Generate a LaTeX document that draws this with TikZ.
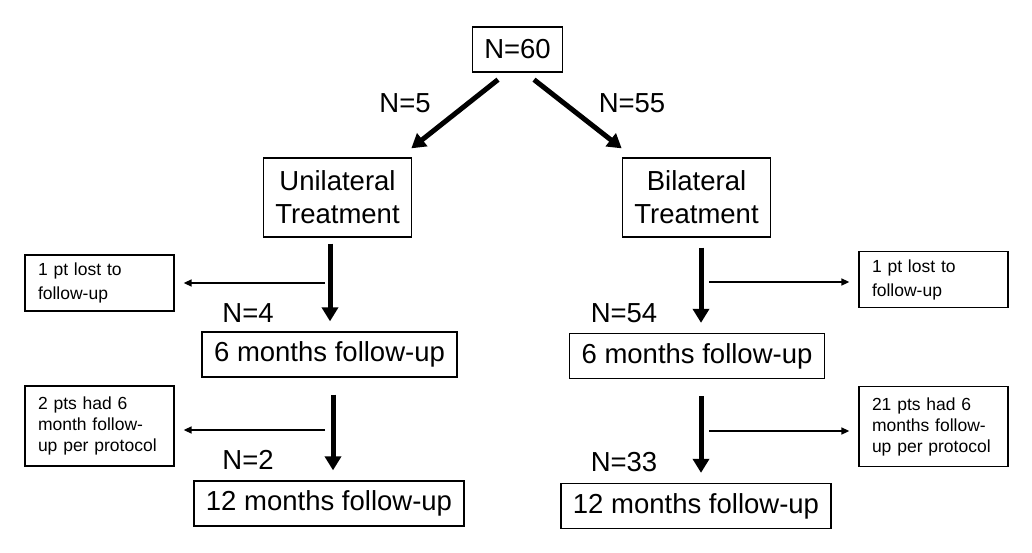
\documentclass[tikz,border=0pt]{standalone}
\usepackage{fontspec}
\setmainfont{Liberation Sans}
\usetikzlibrary{arrows.meta,calc}

\tikzset{
  box/.style={draw, line width=1.3pt, inner xsep=12pt, minimum height=45pt, font=\fontsize{27.5}{33}\selectfont},
  treatbox/.style={box, align=center, minimum height=79pt},
  note/.style={draw, line width=1.3pt, align=left, text width=123pt, inner xsep=13pt, font=\fontsize{17.5}{21}\selectfont},
  count/.style={font=\fontsize{27.5}{33}\selectfont},
  flow/.style={line width=5pt, -{Triangle[length=14pt,width=16pt]}},
  side/.style={line width=1.5pt, -{Triangle[length=8pt,width=7pt]}},
}

\begin{document}
\begin{tikzpicture}[x=1pt,y=-1pt]
  % Fix the page to the reference size
  \useasboundingbox (0,0) rectangle (1032,552);

  % Total at the top
  \node[box] (total) at (517.5,49.5) {N=60};

  % The two treatment arms
  \node[treatbox] (uni) at (337.5,197.5) {Unilateral\\Treatment};
  \node[treatbox] (bil) at (696.5,197.5) {Bilateral\\Treatment};

  % Split of the total
  \draw[flow] ($(total.south)+(-19.5,7)$) -- ($(uni.north east)+(-1,-9)$);
  \draw[flow] ($(total.south)+(16.5,7)$) -- ($(bil.north west)+(0,-9)$);
  \node[count] (n5) at (405,103) {N=5};
  \node[count] (n55) at (632,103) {N=55};

  % Left arm: follow-up boxes
  \node[box] (sixl) at (329.5,354.5) {6 months follow-up};
  \node[box] (twelvel) at (329,503.5) {12 months follow-up};

  % Left arm: side notes
  \node[note, minimum height=56pt, font=\fontsize{17.5}{24}\selectfont] (lostl) at (99.5,283) {1 pt lost to\\follow-up};
  \node[note, minimum height=80pt] (protl) at (99.5,426) {2 pts had 6\\month follow-\\up per protocol};

  % Left arm: arrows
  \draw[flow] ($(sixl.north |- uni.south)+(0.5,6)$) -- ($(sixl.north)+(0.5,-10)$);
  \coordinate (bl1) at (325,283);
  \draw[side, shorten >=9pt] (bl1) -- (bl1 -| lostl.east);
  \node[count] (n4) at (248,313) {N=4};

  \draw[flow] ($(sixl.south)+(3.5,17)$) -- ($(twelvel.north)+(4,-10)$);
  \coordinate (bl2) at (325,430);
  \draw[side, shorten >=9pt] (bl2) -- (bl2 -| protl.east);
  \node[count] (n2) at (248,460) {N=2};

  % Right arm: follow-up boxes
  \node[box] (sixr) at (697,356) {6 months follow-up};
  \node[box] (twelver) at (696,506) {12 months follow-up};

  % Right arm: side notes
  \node[note, minimum height=56pt, font=\fontsize{17.5}{24}\selectfont] (lostr) at (933.5,279.5) {1 pt lost to\\follow-up};
  \node[note, minimum height=80pt] (protr) at (933.5,426.5) {21 pts had 6\\months follow-\\up per protocol};

  % Right arm: arrows
  \draw[flow] ($(bil.south)+(4.5,10)$) -- ($(sixr.north)+(4,-10)$);
  \coordinate (br1) at (709,282);
  \draw[side, shorten >=9pt] (br1) -- (br1 -| lostr.west);
  \node[count] (n54) at (624,313) {N=54};

  \draw[flow] ($(sixr.south)+(4,17)$) -- ($(twelver.north)+(5,-10)$);
  \coordinate (br2) at (709,431);
  \draw[side, shorten >=9pt] (br2) -- (br2 -| protr.west);
  \node[count] (n33) at (624,462) {N=33};
\end{tikzpicture}
\end{document}
